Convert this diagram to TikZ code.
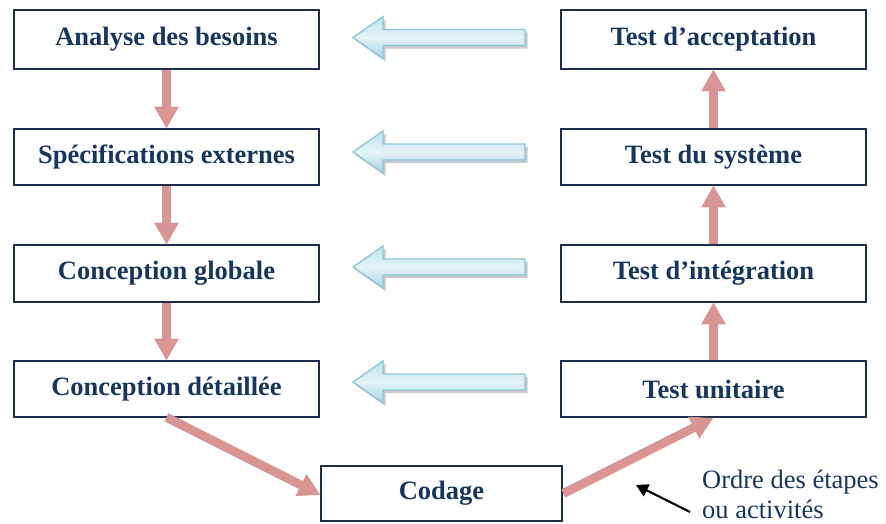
\documentclass[tikz,border=0pt]{standalone}
\usepackage{fontspec}
\setmainfont{Liberation Serif}
\usetikzlibrary{arrows.meta,calc}

\definecolor{navy}{HTML}{17365D}
\definecolor{boxline}{HTML}{1C2E4A}
\definecolor{rose}{HTML}{D99594}
\definecolor{skyedge}{HTML}{8CC6D6}
\definecolor{skytop}{HTML}{BFE3EE}
\definecolor{skymid}{HTML}{E4F3F7}
\definecolor{skybot}{HTML}{A8D5E2}

\tikzset{
  stage/.style={draw=boxline, line width=2.6pt, fill=white, text=navy,
    font=\fontsize{26.5}{30}\selectfont\bfseries,
    minimum width=305pt, inner sep=0pt},
  flow/.style={draw=rose, line width=9pt,
    -{Triangle[width=23pt,length=22pt]}, shorten >=-1pt},
  pointer/.style={draw=black, line width=2.2pt,
    -{Triangle[width=13pt,length=12pt]}},
  feedback/.pic={
    % drop shadow
    \fill[black!35, opacity=.6, shift={(2.5,3)}]
      (0,0) -- (30,-21) -- (30,-8) -- (172,-8) -- (172,8) -- (30,8) -- (30,21) -- cycle;
    % arrow body
    \shade[top color=skytop, bottom color=skybot, middle color=skymid,
      draw=skyedge, line width=1.3pt, line join=miter]
      (0,0) -- (30,-21) -- (30,-8) -- (172,-8) -- (172,8) -- (30,8) -- (30,21) -- cycle;
  }
}

\begin{document}
\begin{tikzpicture}[x=1pt,y=-1pt]
\useasboundingbox (0,0) rectangle (886,523);

% descending branch
\node[stage, minimum height=59pt] (d1) at (166.5,39.5) {Analyse des besoins};
\node[stage, minimum height=56pt] (d2) at (166.5,157) {Spécifications externes};
\node[stage, minimum height=57pt] (d3) at (166.5,273.5) {Conception globale};
\node[stage, minimum height=56pt] (d4) at (166.5,389) {Conception détaillée};

% ascending branch
\node[stage, minimum height=59pt] (t1) at (713.5,39.5) {Test d’acceptation};
\node[stage, minimum height=56pt] (t2) at (713.5,157) {Test du système};
\node[stage, minimum height=57pt] (t3) at (713.5,273.5) {Test d’intégration};
\node[stage, minimum height=56pt] (t4) at (713.5,389) {Test unitaire};

% bottom of the V
\node[stage, minimum width=241pt, minimum height=55pt] (cod) at (441.5,493.5) {Codage};

% order of the steps
\draw[flow] (d1.south) -- (d2.north);
\draw[flow] (d2.south) -- (d3.north);
\draw[flow] (d3.south) -- (d4.north);
\draw[flow] ([yshift=1pt]d4.south) -- ([yshift=-1pt]cod.west);
\draw[flow] (cod.east) -- ([xshift=-1pt]t4.south);
\draw[flow] (t4.north) -- (t3.south);
\draw[flow] (t3.north) -- (t2.south);
\draw[flow] (t2.north) -- (t1.south);

% validation feedback between the two branches
\pic at (353,37.5) {feedback};
\pic at (353,152) {feedback};
\pic at (353,267) {feedback};
\pic at (353,382) {feedback};

% legend
\node[anchor=north west, inner sep=0pt, align=left, text=navy,
  font=\fontsize{26.5}{30}\selectfont] (ordre) at (702,470)
  {Ordre des étapes\\ou activités};
\coordinate (tail) at (690,512);
\coordinate (tip) at (636,485);
\draw[pointer] (tail) -- (tip);
\end{tikzpicture}
\end{document}
